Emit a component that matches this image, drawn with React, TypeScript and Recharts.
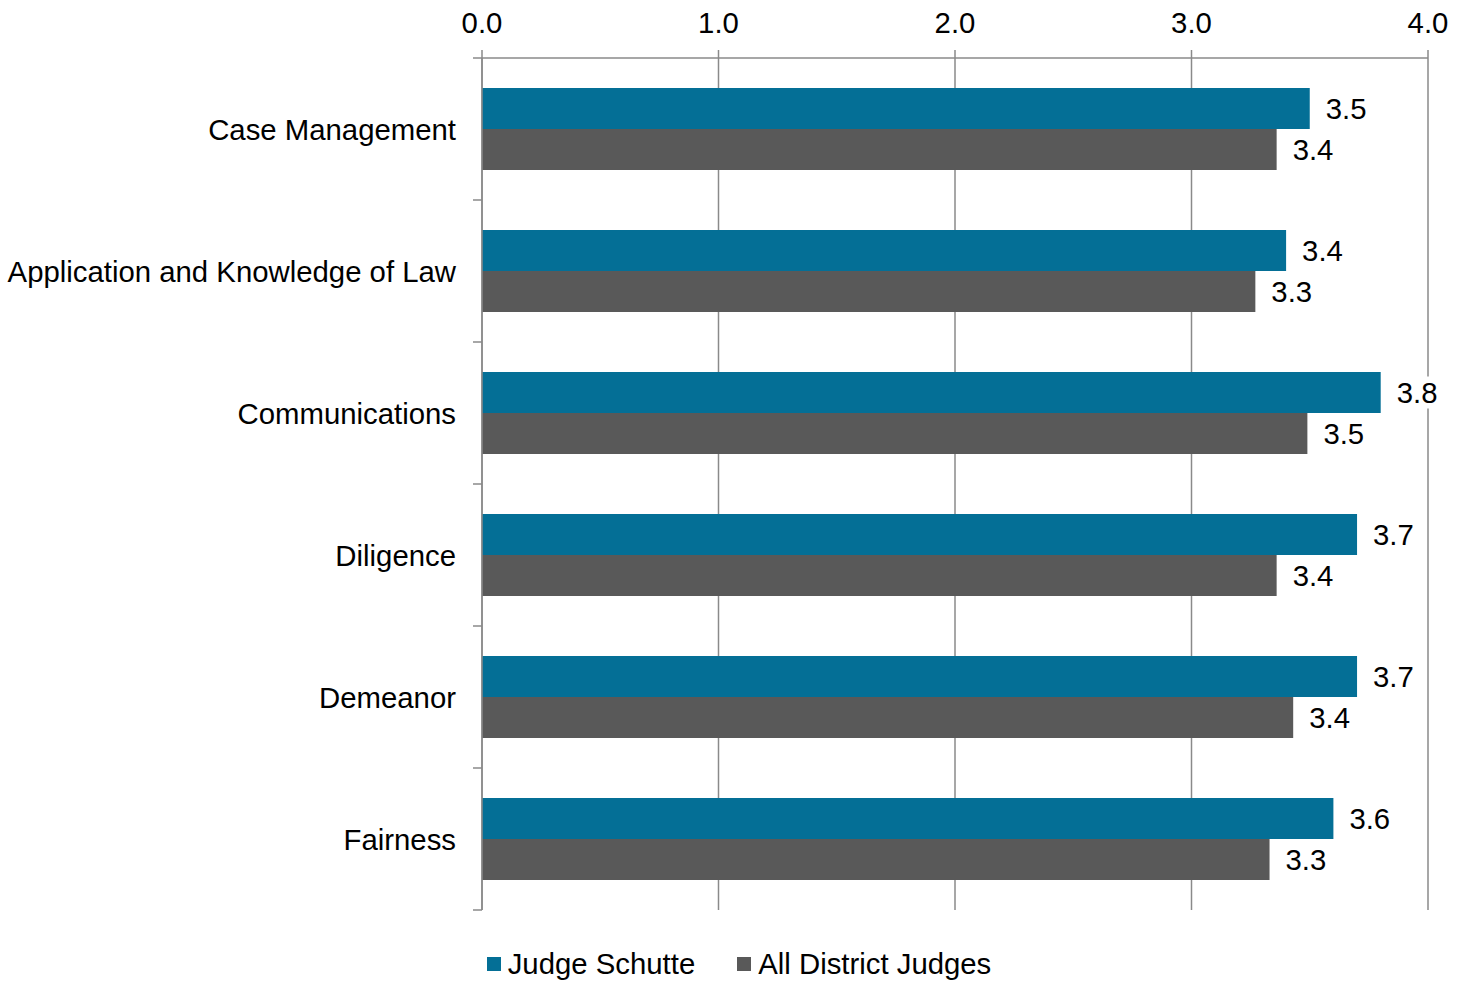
import React from 'react';
import {
  Bar,
  BarChart,
  CartesianGrid,
  LabelList,
  Legend,
  XAxis,
  YAxis,
} from 'recharts';

const categories = [
  'Case Management',
  'Application and Knowledge of Law',
  'Communications',
  'Diligence',
  'Demeanor',
  'Fairness',
];
const judgeSchutte = [3.5, 3.4, 3.8, 3.7, 3.7, 3.6];
const allDistrictJudges = [3.36, 3.27, 3.49, 3.36, 3.43, 3.33];
const xTicks = [0, 1, 2, 3, 4];

const data = categories.map((name, i) => ({
  name,
  judge: judgeSchutte[i],
  all: allDistrictJudges[i],
}));

const BLUE = '#046F96';
const GRAY = '#595959';
const AXIS = '#8a8a8a';
const FONT = 'Liberation Sans, Arial, sans-serif';
const FS = 29.33;

const W = 1468;
const H = 983;
const PLOT_TOP = 58;
const PLOT_BOTTOM = 910;
const HALF_BAND = (PLOT_BOTTOM - PLOT_TOP) / categories.length / 2;

function CategoryTick(props: any) {
  const { x, y, payload, index } = props;
  const last = index === categories.length - 1;
  return (
    <g>
      <text
        x={x - 26}
        y={y}
        textAnchor='end'
        dominantBaseline='central'
        fontSize={FS}
        fontFamily={FONT}
        fill='#000'
      >
        {payload.value}
      </text>
      <line x1={x - 9} x2={x} y1={y - HALF_BAND} y2={y - HALF_BAND} stroke={AXIS} strokeWidth={1.5} />
      {last && (
        <line x1={x - 9} x2={x} y1={y + HALF_BAND} y2={y + HALF_BAND} stroke={AXIS} strokeWidth={1.5} />
      )}
    </g>
  );
}

function ValueLabel(props: any) {
  const { x, y, width, height, value } = props;
  const lx = x + width + 8;
  const cy = y + height / 2;
  return (
    <g>
      <rect x={lx} y={cy - 16} width={58} height={32} fill='#fff' />
      <text
        x={lx + 8}
        y={cy}
        dominantBaseline='central'
        fontSize={FS}
        fontFamily={FONT}
        fill='#000'
      >
        {Number(value).toFixed(1)}
      </text>
    </g>
  );
}

function LegendContent() {
  const items = [
    { label: 'Judge Schutte', color: BLUE },
    { label: 'All District Judges', color: GRAY },
  ];
  return (
    <div
      style={{
        display: 'flex',
        justifyContent: 'center',
        paddingTop: 40,
        paddingLeft: 50,
        fontFamily: FONT,
        fontSize: FS,
        lineHeight: '28px',
        color: '#000',
      }}
    >
      {items.map((it, i) => (
        <div
          key={it.label}
          style={{ display: 'flex', alignItems: 'center', marginLeft: i ? 42 : 0 }}
        >
          <span
            style={{
              width: 14,
              height: 14,
              background: it.color,
              display: 'inline-block',
              marginRight: 7,
            }}
          />
          <span>{it.label}</span>
        </div>
      ))}
    </div>
  );
}

export default function App() {
  return (
    <div style={{ position: 'absolute', left: 0, top: 0, width: W, height: H, background: '#fff' }}>
      <BarChart
        width={W}
        height={H}
        data={data}
        layout='vertical'
        margin={{ top: 0, right: 40, bottom: 8, left: 0 }}
        barCategoryGap={30}
        barGap={0}
      >
        <CartesianGrid horizontal={false} stroke={AXIS} strokeWidth={1.5} />
        <XAxis
          type='number'
          orientation='top'
          domain={[0, 4]}
          ticks={xTicks}
          height={PLOT_TOP}
          tickFormatter={(v) => v.toFixed(1)}
          tickSize={8}
          tickMargin={17}
          axisLine={{ stroke: AXIS, strokeWidth: 1.5 }}
          tickLine={{ stroke: AXIS, strokeWidth: 1.5 }}
          tick={{ fontSize: FS, fontFamily: FONT, fill: '#000' }}
          interval={0}
        />
        <YAxis
          type='category'
          dataKey='name'
          width={482}
          tickSize={0}
          tickMargin={0}
          tickLine={false}
          axisLine={{ stroke: AXIS, strokeWidth: 1.5 }}
          tick={<CategoryTick />}
          interval={0}
        />
        <Legend verticalAlign='bottom' height={65} content={<LegendContent />} />
        <Bar dataKey='judge' name='Judge Schutte' fill={BLUE} isAnimationActive={false}>
          <LabelList dataKey='judge' content={<ValueLabel />} />
        </Bar>
        <Bar dataKey='all' name='All District Judges' fill={GRAY} isAnimationActive={false}>
          <LabelList dataKey='all' content={<ValueLabel />} />
        </Bar>
      </BarChart>
    </div>
  );
}
